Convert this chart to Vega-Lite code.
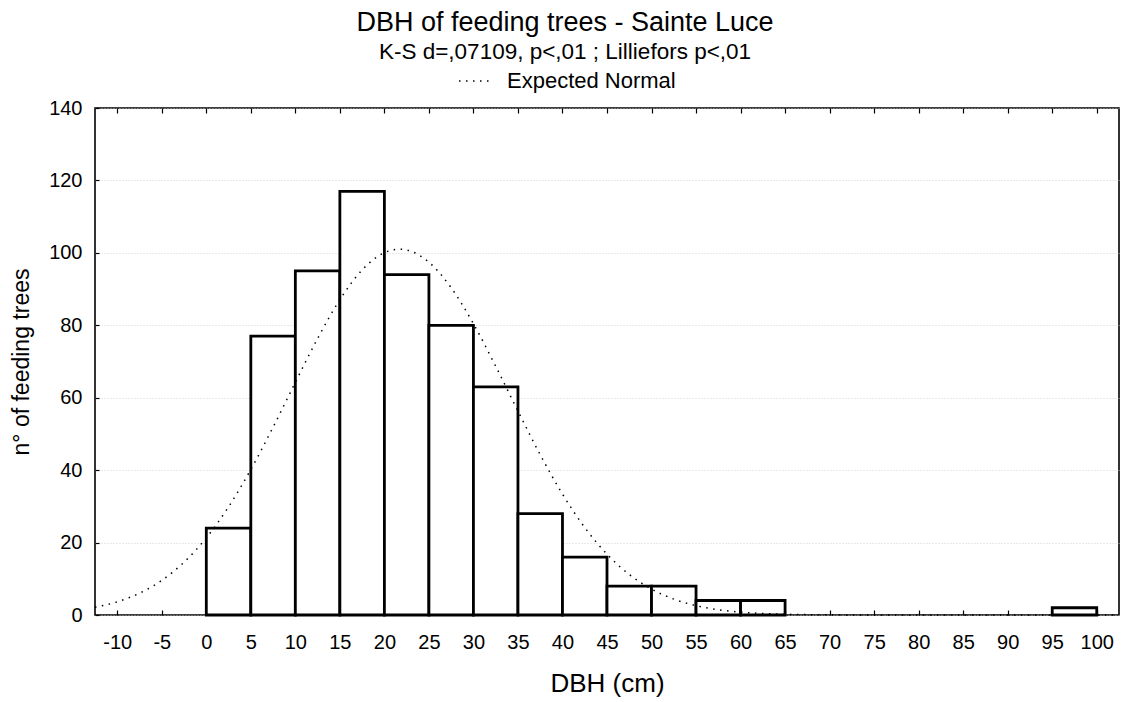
{
  "$schema": "https://vega.github.io/schema/vega-lite/v6.json",
  "width": 1024,
  "height": 507,
  "autosize": {"type": "none"},
  "padding": {"left": 95, "top": 108, "right": 5, "bottom": 87},
  "background": "white",
  "config": {
    "font": "Liberation Sans",
    "view": {"stroke": "black", "strokeWidth": 1.6},
    "axis": {
      "labelFont": "Liberation Sans",
      "titleFont": "Liberation Sans",
      "labelColor": "black",
      "titleColor": "black",
      "titleFontWeight": "normal",
      "domain": false,
      "tickColor": "black",
      "tickWidth": 1.2
    }
  },
  "title": {
    "text": "DBH of feeding trees - Sainte Luce",
    "subtitle": "K-S d=,07109, p<,01 ; Lilliefors p<,01",
    "anchor": "middle",
    "frame": "group",
    "dx": -42,
    "offset": 0,
    "fontSize": 27,
    "fontWeight": "normal",
    "color": "black",
    "subtitleFontSize": 22.5,
    "subtitleColor": "black",
    "subtitlePadding": 4,
    "font": "Liberation Sans",
    "subtitleFont": "Liberation Sans"
  },
  "datasets": {
    "bins": [
      {"bin_start": 0, "bin_end": 5, "count": 24},
      {"bin_start": 5, "bin_end": 10, "count": 77},
      {"bin_start": 10, "bin_end": 15, "count": 95},
      {"bin_start": 15, "bin_end": 20, "count": 117},
      {"bin_start": 20, "bin_end": 25, "count": 94},
      {"bin_start": 25, "bin_end": 30, "count": 80},
      {"bin_start": 30, "bin_end": 35, "count": 63},
      {"bin_start": 35, "bin_end": 40, "count": 28},
      {"bin_start": 40, "bin_end": 45, "count": 16},
      {"bin_start": 45, "bin_end": 50, "count": 8},
      {"bin_start": 50, "bin_end": 55, "count": 8},
      {"bin_start": 55, "bin_end": 60, "count": 4},
      {"bin_start": 60, "bin_end": 65, "count": 4},
      {"bin_start": 95, "bin_end": 100, "count": 2}
    ],
    "normal": [
      {"dbh": -12.5, "expected": 2.12},
      {"dbh": -10, "expected": 3.65},
      {"dbh": -7.5, "expected": 6.03},
      {"dbh": -5, "expected": 9.57},
      {"dbh": -2.5, "expected": 14.58},
      {"dbh": 0, "expected": 21.3},
      {"dbh": 2.5, "expected": 29.87},
      {"dbh": 5, "expected": 40.18},
      {"dbh": 7.5, "expected": 51.87},
      {"dbh": 10, "expected": 64.25},
      {"dbh": 12.5, "expected": 76.35},
      {"dbh": 15, "expected": 87.07},
      {"dbh": 17.5, "expected": 95.28},
      {"dbh": 20, "expected": 100.04},
      {"dbh": 21.7, "expected": 101},
      {"dbh": 22.5, "expected": 100.79},
      {"dbh": 25, "expected": 97.43},
      {"dbh": 27.5, "expected": 90.37},
      {"dbh": 30, "expected": 80.43},
      {"dbh": 32.5, "expected": 68.69},
      {"dbh": 35, "expected": 56.29},
      {"dbh": 37.5, "expected": 44.26},
      {"dbh": 40, "expected": 33.39},
      {"dbh": 42.5, "expected": 24.17},
      {"dbh": 45, "expected": 16.79},
      {"dbh": 47.5, "expected": 11.19},
      {"dbh": 50, "expected": 7.16},
      {"dbh": 52.5, "expected": 4.39},
      {"dbh": 55, "expected": 2.59},
      {"dbh": 57.5, "expected": 1.46},
      {"dbh": 60, "expected": 0.79},
      {"dbh": 62.5, "expected": 0.41},
      {"dbh": 65, "expected": 0.21},
      {"dbh": 67.5, "expected": 0.1},
      {"dbh": 70, "expected": 0.05},
      {"dbh": 75, "expected": 0.01},
      {"dbh": 80, "expected": 0},
      {"dbh": 90, "expected": 0},
      {"dbh": 102.5, "expected": 0}
    ]
  },
  "layer": [
    {
      "data": {"name": "bins"},
      "mark": {"type": "bar", "fill": "white", "stroke": "black", "strokeWidth": 2.8},
      "encoding": {
        "x": {
          "field": "bin_start",
          "type": "quantitative",
          "scale": {"domain": [-12.5, 102.5], "nice": false, "zero": false},
          "axis": {
            "orient": "bottom",
            "values": [-10, -5, 0, 5, 10, 15, 20, 25, 30, 35, 40, 45, 50, 55, 60, 65, 70, 75, 80, 85, 90, 95, 100],
            "labelExpr": "datum.value < 0 ? '-' + abs(datum.value) : datum.label",
            "title": "DBH (cm)",
            "titleFontSize": 26,
            "titlePadding": 18,
            "labelFontSize": 20,
            "labelPadding": 22,
            "tickSize": -5,
            "grid": false
          }
        },
        "x2": {"field": "bin_end"},
        "y": {
          "field": "count",
          "type": "quantitative",
          "scale": {"domain": [0, 140], "nice": false},
          "axis": {
            "values": [0, 20, 40, 60, 80, 100, 120, 140],
            "title": "n° of feeding trees",
            "titleFontSize": 23,
            "titlePadding": 15,
            "labelFontSize": 20,
            "labelPadding": 17,
            "tickSize": -4,
            "grid": true,
            "gridColor": "#c8c8c8",
            "gridDash": [1, 2],
            "gridWidth": 0.8
          }
        },
        "y2": {"datum": 0}
      }
    },
    {
      "data": {"name": "bins"},
      "mark": {"type": "tick", "opacity": 0},
      "encoding": {
        "x": {
          "field": "bin_start",
          "type": "quantitative",
          "axis": {
            "orient": "top",
            "values": [-10, -5, 0, 5, 10, 15, 20, 25, 30, 35, 40, 45, 50, 55, 60, 65, 70, 75, 80, 85, 90, 95, 100],
            "labels": false,
            "title": null,
            "tickSize": -5,
            "grid": false
          }
        }
      }
    },
    {
      "data": {"name": "normal"},
      "mark": {"type": "line", "stroke": "black", "strokeWidth": 1.5, "strokeDash": [1.5, 5.5], "interpolate": "monotone"},
      "encoding": {
        "x": {"field": "dbh", "type": "quantitative", "axis": null},
        "y": {"field": "expected", "type": "quantitative"},
        "color": {
          "datum": "Expected Normal",
          "type": "nominal",
          "scale": {"range": ["black"]},
          "legend": {
            "title": null,
            "orient": "none",
            "legendX": 363,
            "legendY": -44,
            "symbolType": "stroke",
            "symbolSize": 1024,
            "symbolStrokeWidth": 1.5,
            "symbolDash": [1.5, 5.5],
            "labelFontSize": 22,
            "labelLimit": 400,
            "labelFont": "Liberation Sans",
            "labelColor": "black",
            "labelOffset": 15
          }
        }
      }
    }
  ],
  "resolve": {"axis": {"x": "independent"}}
}
